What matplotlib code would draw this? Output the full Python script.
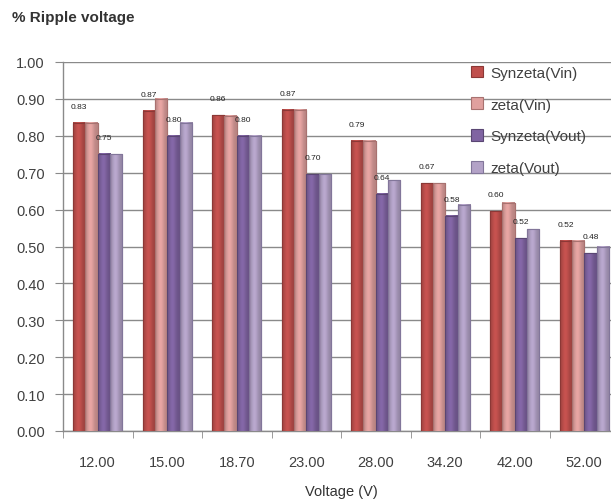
import numpy as np
import matplotlib
matplotlib.use("Agg")
import matplotlib.pyplot as plt
from matplotlib.colors import to_rgb

# voltages on the x axis
voltages = ["12.00", "15.00", "18.70", "23.00", "28.00", "34.20", "42.00", "52.00"]

# % ripple values
synzeta_vin = [0.835, 0.868, 0.856, 0.870, 0.787, 0.672, 0.596, 0.516]
zeta_vin = [0.835, 0.900, 0.855, 0.870, 0.787, 0.672, 0.619, 0.516]
synzeta_vout = [0.751, 0.800, 0.800, 0.696, 0.643, 0.583, 0.523, 0.482]
zeta_vout = [0.750, 0.835, 0.800, 0.696, 0.679, 0.613, 0.547, 0.499]

series = [
    ("Synzeta(Vin)", synzeta_vin, "#C0504D", "#8C3836", True),
    ("zeta(Vin)", zeta_vin, "#E0A09E", "#A87270", False),
    ("Synzeta(Vout)", synzeta_vout, "#8064A2", "#5A4673", True),
    ("zeta(Vout)", zeta_vout, "#B3A2C7", "#82769A", False),
]

plt.rcParams["font.family"] = ["Liberation Sans", "DejaVu Sans"]


def shade(col):
    # horizontal cylinder-like shading: darker edges, lighter middle
    base = np.array(to_rgb(col))
    t = np.linspace(-1, 1, 32)
    k = 0.82 + 0.22 * np.exp(-((t + 0.15) ** 2) / 0.35)
    return np.clip(base[None, None, :] * k[None, :, None], 0, 1)


fig = plt.figure(figsize=(6.11, 5.02), dpi=100)
ax = fig.add_axes([63 / 611, 70 / 502, 556 / 611, 369 / 502])

x = np.arange(len(voltages))
w = 0.178
for i, (name, vals, col, edge, labelled) in enumerate(series):
    pos = x + (i - 1.5) * w
    bars = ax.bar(pos, vals, width=w, color=col, edgecolor=edge, linewidth=0.8,
                  label=name, zorder=3)
    grad = shade(col)
    for b in bars:
        bx, bw, bh = b.get_x(), b.get_width(), b.get_height()
        ax.imshow(grad, extent=[bx, bx + bw, 0, bh], aspect="auto",
                  interpolation="bilinear", zorder=3.5)
        ax.plot([bx, bx, bx + bw, bx + bw], [0, bh, bh, 0], color=edge,
                linewidth=0.8, zorder=3.6)
    if labelled:
        for px, v in zip(pos, vals):
            ax.text(px, v + 0.035, f"{v:.2f}", ha="center", va="bottom",
                    fontsize=6, color="#222222", zorder=4)

ax.set_xlim(-0.5, len(voltages) - 0.5)
ax.set_ylim(0, 1.0)
ax.set_yticks(np.arange(0, 1.01, 0.1))
ax.set_yticklabels([f"{t:.2f}" for t in np.arange(0, 1.01, 0.1)])
ax.set_xticks(x)
ax.set_xticklabels(voltages)
ax.set_xticks(np.arange(-0.5, len(voltages), 1.0), minor=True)

ax.yaxis.grid(True, color="#8A8A8A", linewidth=1.0, zorder=0)
ax.set_axisbelow(True)
for s in ["top", "right"]:
    ax.spines[s].set_visible(False)
for s in ["left", "bottom"]:
    ax.spines[s].set_color("#8A8A8A")
    ax.spines[s].set_linewidth(1.0)

ax.tick_params(axis="y", length=6, color="#8A8A8A", labelsize=10.5,
               labelcolor="#404040", pad=7)
ax.tick_params(axis="x", which="major", length=0, labelsize=10.5,
               labelcolor="#404040", pad=17)
ax.tick_params(axis="x", which="minor", length=5, color="#8A8A8A")

fig.text(12 / 611, 1 - 18 / 502, "% Ripple voltage", fontsize=11,
         fontweight="bold", color="#333333", va="center", ha="left")
fig.text(341 / 611, 1 - 492 / 502, "Voltage (V)", fontsize=10.5,
         color="#333333", va="center", ha="center")

leg = ax.legend(loc="upper left", bbox_to_anchor=(457 / 611, 1 - 53 / 502),
                bbox_transform=fig.transFigure, frameon=False, fontsize=11,
                handlelength=0.8, handleheight=0.8, handletextpad=0.5,
                labelspacing=1.15, labelcolor="#404040")

fig.savefig("out.png", dpi=100)
